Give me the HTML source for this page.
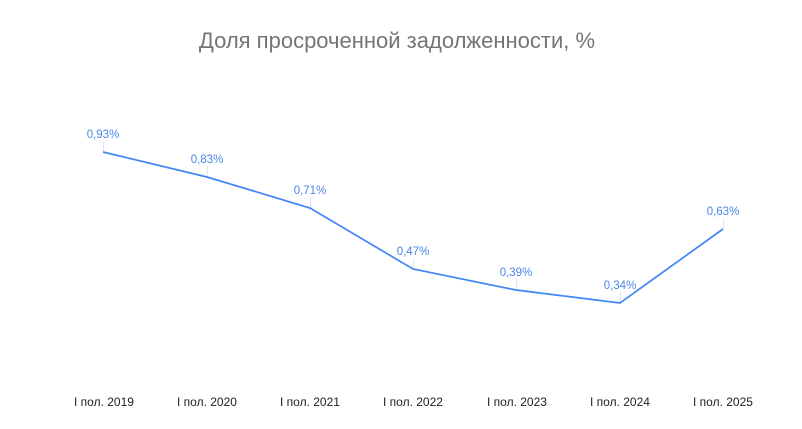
<!DOCTYPE html>
<html><head><meta charset="utf-8"><style>
html,body{margin:0;padding:0;background:#fff;}
svg{display:block;font-family:"Liberation Sans",Arial,sans-serif;}
</style></head><body>
<svg width="802" height="429" viewBox="0 0 802 429" xmlns="http://www.w3.org/2000/svg">
<rect width="802" height="429" fill="#fff"/>
<text x="397" y="48" text-anchor="middle" font-size="22" fill="#757575">Доля просроченной задолженности, %</text>
<g stroke="#dde6f5" stroke-width="1">
<line x1="103.5" y1="141" x2="103.5" y2="152"/>
<line x1="207.5" y1="166" x2="207.5" y2="177"/>
<line x1="310.5" y1="197" x2="310.5" y2="208"/>
<line x1="413.5" y1="258" x2="413.5" y2="269"/>
<line x1="516.5" y1="279" x2="516.5" y2="290"/>
<line x1="620.5" y1="292" x2="620.5" y2="303"/>
<line x1="723.5" y1="218" x2="723.5" y2="229"/>
</g>
<polyline fill="none" stroke="#4285f4" stroke-width="1.7" points="103,152 207,177 310,208 413,269 516,290 620,303 723,229"/>
<g font-size="11.5" fill="#4a86e8" text-anchor="middle">
<text x="103" y="138">0,93%</text>
<text x="207" y="163">0,83%</text>
<text x="310" y="194">0,71%</text>
<text x="413" y="255">0,47%</text>
<text x="516" y="276">0,39%</text>
<text x="620" y="289">0,34%</text>
<text x="723" y="215">0,63%</text>
</g>
<g font-size="12" fill="#222" text-anchor="middle">
<text x="104" y="406">I пол. 2019</text>
<text x="207" y="406">I пол. 2020</text>
<text x="310" y="406">I пол. 2021</text>
<text x="413" y="406">I пол. 2022</text>
<text x="517" y="406">I пол. 2023</text>
<text x="620" y="406">I пол. 2024</text>
<text x="723" y="406">I пол. 2025</text>
</g>
</svg>
</body></html>
